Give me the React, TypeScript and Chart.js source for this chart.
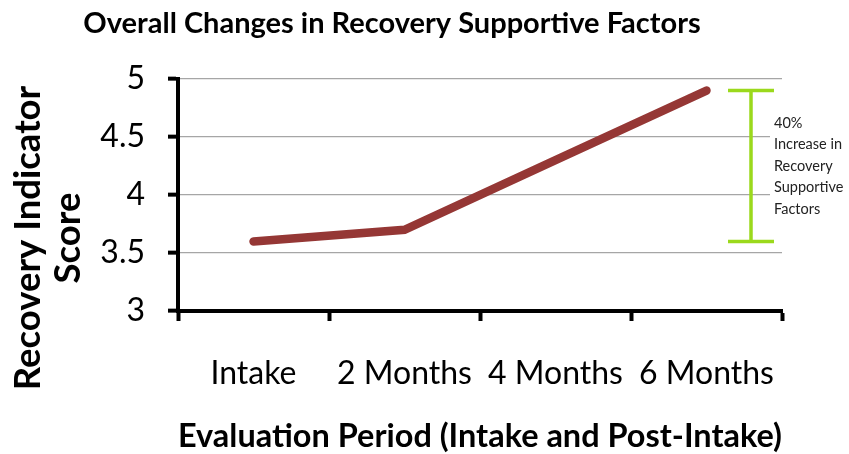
import React, { useEffect, useRef } from "react";
import { Chart, registerables } from "chart.js";

Chart.register(...registerables);

const categories = ["Intake", "2 Months", "4 Months", "6 Months"];
const scores = [3.6, 3.7, 4.3, 4.9];
const yTicks = [3, 3.5, 4, 4.5, 5];

const chartTitle = "Overall Changes in Recovery Supportive Factors";
const yTitleLines = ["Recovery Indicator", "Score"];
const xTitle = "Evaluation Period (Intake and Post-Intake)";
const noteLines = ["40%", "Increase in", "Recovery", "Supportive", "Factors"];

const FONT = "Lato, 'Open Sans', sans-serif";
const LINE_COLOR = "#953735";
const BRACKET_COLOR = "#9BD91C";

const decorPlugin = {
  id: "decor",
  afterDraw(chart: any) {
    const ctx = chart.ctx as CanvasRenderingContext2D;
    const area = chart.chartArea;
    const y = chart.scales.y;

    // Chart title
    ctx.save();
    ctx.fillStyle = "#000";
    ctx.font = `bold 29px ${FONT}`;
    ctx.textAlign = "center";
    ctx.textBaseline = "alphabetic";
    ctx.fillText(chartTitle, 392, 33);
    ctx.restore();

    // Y title (rotated, two lines)
    ctx.save();
    ctx.fillStyle = "#000";
    ctx.font = `bold 36.5px ${FONT}`;
    ctx.textAlign = "center";
    ctx.textBaseline = "alphabetic";
    ctx.translate(0, 238);
    ctx.rotate(-Math.PI / 2);
    ctx.fillText(yTitleLines[0], 0, 40);
    ctx.fillText(yTitleLines[1], 0, 80);
    ctx.restore();

    // Bracket annotation from first to last value
    const yTop = y.getPixelForValue(scores[scores.length - 1]);
    const yBot = y.getPixelForValue(scores[0]);
    const bx = area.right - 31;
    const half = 23;
    ctx.save();
    ctx.strokeStyle = BRACKET_COLOR;
    ctx.lineWidth = 3.5;
    ctx.beginPath();
    ctx.moveTo(bx - half, yTop);
    ctx.lineTo(bx + half, yTop);
    ctx.moveTo(bx, yTop);
    ctx.lineTo(bx, yBot);
    ctx.moveTo(bx - half, yBot);
    ctx.lineTo(bx + half, yBot);
    ctx.stroke();
    ctx.restore();

    const mid = (yTop + yBot) / 2;
    const lh = 21.5;
    const tx = bx + half;
    const firstY = mid - ((noteLines.length - 1) * lh) / 2;
    ctx.save();
    ctx.fillStyle = "#fff";
    ctx.fillRect(tx - 4, firstY - lh / 2 - 2, chart.width - tx + 4, lh * noteLines.length + 4);
    ctx.fillStyle = "#222";
    ctx.font = `14.5px ${FONT}`;
    ctx.textAlign = "left";
    ctx.textBaseline = "middle";
    noteLines.forEach((t, i) => ctx.fillText(t, tx, firstY + i * lh));
    ctx.restore();
  },
};

export default function App() {
  const ref = useRef<HTMLCanvasElement | null>(null);
  useEffect(() => {
    if (!ref.current) return;
    const chart = new Chart(ref.current, {
      type: "line",
      data: {
        labels: categories,
        datasets: [
          {
            data: scores,
            borderColor: LINE_COLOR,
            backgroundColor: LINE_COLOR,
            borderWidth: 8.5,
            borderCapStyle: "round",
            borderJoinStyle: "miter",
            pointRadius: 0,
            tension: 0,
            fill: false,
          },
        ],
      },
      options: {
        animation: false,
        responsive: false,
        maintainAspectRatio: false,
        layout: { padding: { left: 0, right: 67, top: 79, bottom: 0 } },
        plugins: {
          legend: { display: false },
          title: { display: false },
          tooltip: { enabled: false },
        },
        scales: {
          x: {
            type: "category",
            offset: true,
            grid: {
              offset: true,
              drawOnChartArea: false,
              drawTicks: true,
              tickLength: 10,
              tickColor: "#000",
              tickWidth: 4,
            },
            border: { display: true, color: "#000", width: 4 },
            ticks: {
              color: "#000",
              padding: 33,
              maxRotation: 0,
              autoSkip: false,
              font: { family: FONT, size: 32 },
            },
            title: {
              display: true,
              text: xTitle,
              color: "#000",
              font: { family: FONT, size: 32.5, weight: "bold", lineHeight: 1.05 },
              padding: { top: 0, bottom: 0 },
            },
            afterFit(scale: any) {
              scale.height = 143;
            },
          },
          y: {
            min: 3,
            max: 5,
            afterBuildTicks(scale: any) {
              scale.ticks = yTicks.map((v) => ({ value: v }));
            },
            grid: {
              color: "#a6a6a6",
              lineWidth: 1.3,
              drawTicks: true,
              tickLength: 10,
              tickColor: "#000",
              tickWidth: 4,
            },
            border: { display: true, color: "#000", width: 4 },
            ticks: {
              color: "#000",
              padding: 23,
              font: { family: FONT, size: 32 },
              callback: (v: any) => String(v),
            },
            afterFit(scale: any) {
              scale.width = 178;
            },
          },
        },
      },
      plugins: [decorPlugin],
    });
    return () => chart.destroy();
  }, []);
  return (
    <div style={{ position: "fixed", left: 0, top: 0, width: 849, height: 454, background: "#fff" }}>
      <canvas ref={ref} width={849} height={454} style={{ display: "block" }} />
    </div>
  );
}
